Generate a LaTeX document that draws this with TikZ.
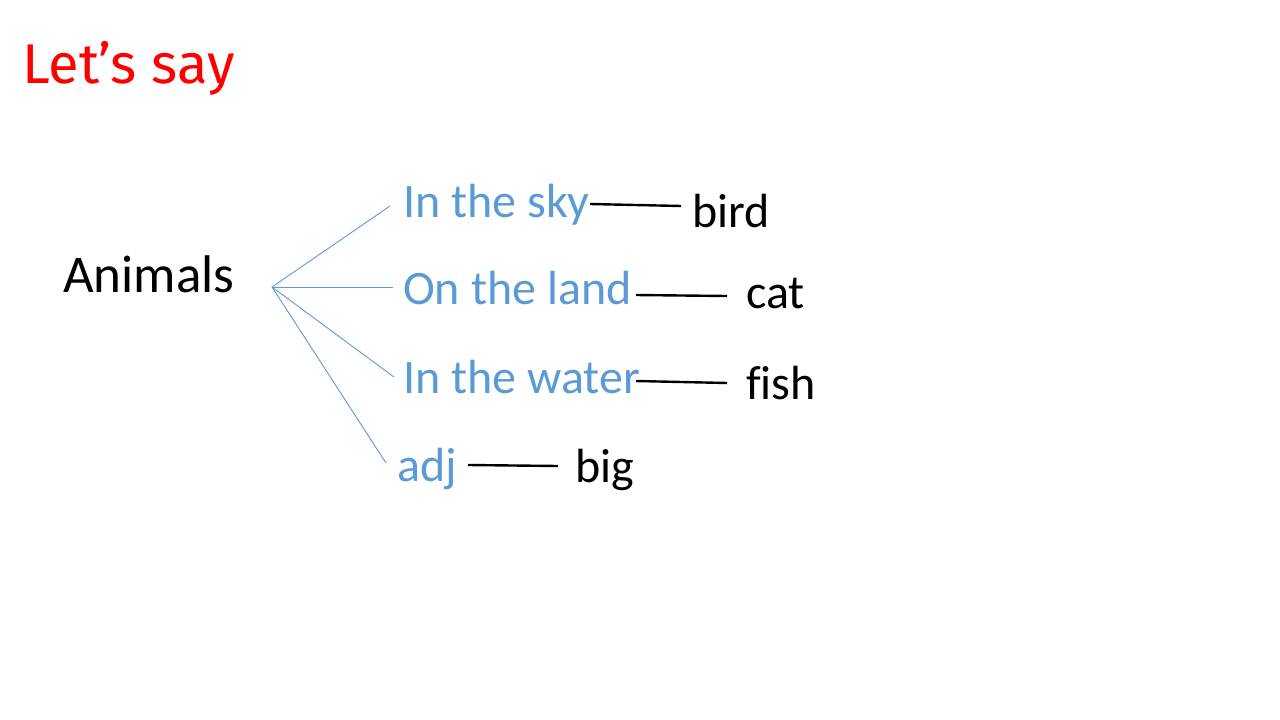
\documentclass[tikz,border=0pt]{standalone}
\usepackage{fontspec}
\setmainfont{Carlito}[Ligatures=NoCommon]
\newfontfamily\titlefont{Fira Sans}
\definecolor{acc}{RGB}{91,155,213}
\definecolor{titlered}{RGB}{255,0,0}
\begin{document}
\begin{tikzpicture}[x=1pt,y=-1pt,
  lbl/.style={anchor=base west,inner sep=0pt,font=\fontsize{48}{58}\selectfont},
  cat/.style={lbl,text=acc},
  word/.style={lbl,text=black},
  branch/.style={draw=acc,line width=0.9pt},
  link/.style={draw=black,line width=2.4pt}]
\useasboundingbox (0,0) rectangle (1280,720);
\node[anchor=base west,inner sep=0pt,text=titlered,font=\titlefont\fontsize{56}{66}\selectfont] (title) at (22,83) {Let’s say};
\node[word,font=\fontsize{53}{64}\selectfont] (animals) at (63,292) {Animals};
\node[cat] (sky) at (403,217) {In the sky};
\node[cat] (land) at (403,304) {On the land};
\node[cat] (water) at (403,393) {In the water};
\node[cat] (adj) at (397,481) {adj};
\node[word] (bird) at (692,227) {bird};
\node[word] (catw) at (746,308) {cat};
\node[word] (fish) at (746,399) {fish};
\node[word] (big) at (575,482) {big};
\coordinate (hub) at (272,287);
\coordinate (e1) at (390,206);
\coordinate (e2) at (393,287);
\coordinate (e3) at (394,377);
\coordinate (e4) at (386,463);
\draw[branch] (hub) -- (e1);
\draw[branch] (hub) -- (e2);
\draw[branch] (hub) -- (e3);
\draw[branch] (hub) -- (e4);
\coordinate (s1) at (590,204); \coordinate (t1) at (681,206);
\coordinate (s2) at (636,295); \coordinate (t2) at (727,296);
\coordinate (s3) at (636,381); \coordinate (t3) at (727,383);
\coordinate (s4) at (468,465); \coordinate (t4) at (558,466);
\draw[link] (s1) -- (t1);
\draw[link] (s2) -- (t2);
\draw[link] (s3) -- (t3);
\draw[link] (s4) -- (t4);
\end{tikzpicture}
\end{document}
